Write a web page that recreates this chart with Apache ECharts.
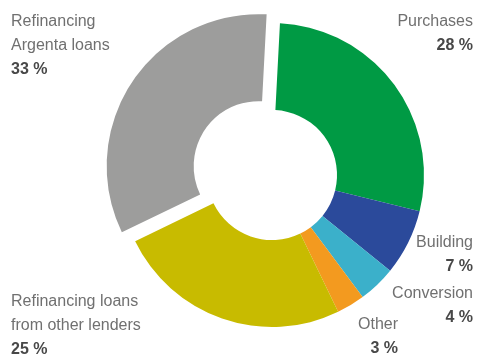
<!DOCTYPE html>
<html>
<head>
<meta charset="utf-8">
<script src="https://cdn.jsdelivr.net/npm/echarts@6/dist/echarts.min.js"></script>
<style>
  html, body { margin: 0; padding: 0; background: #ffffff; }
  #chart { width: 478px; height: 355px; }
</style>
</head>
<body>
<div id="chart"></div>
<script>
// Mortgage loan purpose breakdown (share of production, %)
const categories = [
  'Purchases',
  'Building',
  'Conversion',
  'Other',
  'Refinancing loans\nfrom other lenders',
  'Refinancing\nArgenta loans'
];
const shares = [28, 7, 4, 3, 25, 33];
const colors = ['#009a44', '#2b4a9b', '#3bb0ca', '#f39a1f', '#c8bb00', '#9d9d9c'];
const pulledOut = [false, false, false, false, false, true];

// Label anchor per slice: [x, y(top), align]
const labelSpots = [
  [473, 10, 'right'],
  [473, 231, 'right'],
  [473, 282, 'right'],
  [398, 313, 'right'],
  [11, 290, 'left'],
  [11, 10, 'left']
];

const CENTER = [272, 175];
const RADIUS = [65, 152];
const START = 87;       // degrees, counter-clockwise from 3 o'clock
const PULL = 16;        // distance a pulled-out slice is moved away from the centre

const total = shares.reduce((a, b) => a + b, 0);

// centre of the pulled-out ring: shifted along the slice's mid angle
function pulledCenter(idx) {
  let before = 0;
  for (let i = 0; i < idx; i++) before += shares[i];
  const mid = (START - 360 * (before + shares[idx] / 2) / total) * Math.PI / 180;
  return [CENTER[0] + PULL * Math.cos(mid), CENTER[1] - PULL * Math.sin(mid)];
}

const font = 'Liberation Sans, Arial, sans-serif';
const labelStyle = {
  show: true,
  position: 'outside',
  formatter: p => '{n|' + p.name.split('\n').join('}\n{n|') + '}\n{v|' + p.value + ' %}',
  rich: {
    n: { fontFamily: font, fontSize: 16, color: '#707070', lineHeight: 24 },
    v: { fontFamily: font, fontSize: 16, fontWeight: 'bold', color: '#484848', lineHeight: 24 }
  }
};

const pulledIdx = pulledOut.indexOf(true);

const chart = echarts.init(document.getElementById('chart'), null, { renderer: 'canvas' });

chart.setOption({
  animation: false,
  backgroundColor: '#ffffff',
  series: [
    {
      // main ring with all labels; pulled-out slice is left empty here
      type: 'pie',
      center: CENTER,
      radius: RADIUS,
      startAngle: START,
      clockwise: true,
      avoidLabelOverlap: false,
      emphasis: { disabled: true },
      labelLine: { show: false },
      label: labelStyle,
      labelLayout: function (params) {
        const s = labelSpots[params.dataIndex];
        return { x: s[0], y: s[1], align: s[2], verticalAlign: 'top' };
      },
      data: categories.map((c, i) => ({
        name: c,
        value: shares[i],
        itemStyle: { color: pulledOut[i] ? 'rgba(0,0,0,0)' : colors[i] },
        label: { align: labelSpots[i][2] }
      }))
    },
    {
      // the pulled-out slice, drawn on a shifted centre
      type: 'pie',
      center: pulledCenter(pulledIdx),
      radius: RADIUS,
      startAngle: START,
      clockwise: true,
      silent: true,
      emphasis: { disabled: true },
      label: { show: false },
      labelLine: { show: false },
      data: categories.map((c, i) => ({
        name: c,
        value: shares[i],
        itemStyle: { color: pulledOut[i] ? colors[i] : 'rgba(0,0,0,0)' }
      }))
    }
  ]
});
</script>
</body>
</html>
